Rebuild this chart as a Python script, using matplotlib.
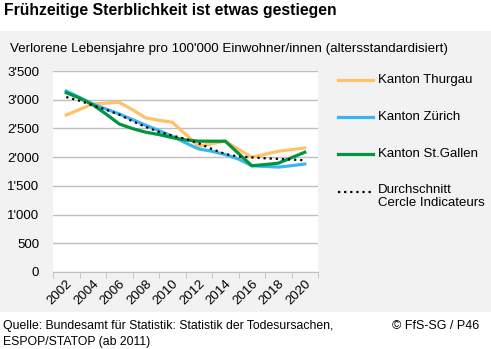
import numpy as np
import matplotlib
matplotlib.use('Agg')
import matplotlib.pyplot as plt
from matplotlib.patches import Rectangle
from matplotlib.lines import Line2D
from matplotlib.ticker import FuncFormatter

plt.rcParams['font.family'] = ['Liberation Sans', 'DejaVu Sans']

# data
years = list(range(2002, 2021))
thurgau = [2735, 2830, 2925, 2940, 2954, 2826, 2683, 2642, 2608, 2400, 2190,
           2237, 2278, 2137, 1997, 2050, 2102, 2131, 2160]
zuerich = [3152, 3040, 2925, 2838, 2751, 2653, 2555, 2462, 2365, 2249, 2143,
           2102, 2044, 1968, 1851, 1839, 1827, 1851, 1880]
stgallen = [3122, 3029, 2913, 2751, 2578, 2497, 2434, 2393, 2340, 2300, 2278,
            2278, 2278, 2065, 1851, 1870, 1895, 1990, 2085]
durchschnitt = [3046, 2983, 2902, 2827, 2740, 2624, 2526, 2439, 2376, 2318, 2240,
                2140, 2055, 2010, 1997, 1980, 1970, 1958, 1945]

labels = ['Kanton Thurgau', 'Kanton Zürich', 'Kanton St.Gallen',
          'Durchschnitt\nCercle Indicateurs']
colors = ['#FFC266', '#3BB5F2', '#00953E', 'black']

tick_years = list(range(2002, 2021, 2))
y_ticks = list(range(0, 3501, 500))

dots = (0, (1, 1.75))

fig = plt.figure(figsize=(4.91, 3.49), dpi=100)
W, H = 491.0, 349.0

# grey panel behind chart
fig.patches.append(Rectangle((0, 1 - 312 / H), 1, (312 - 31) / H,
                             transform=fig.transFigure, facecolor='#F2F2F2',
                             edgecolor='none', zorder=-5))

ax = fig.add_axes([53 / W, 1 - 272 / H, (318 - 53) / W, (272 - 71) / H])
ax.set_zorder(2)
ax.set_facecolor('white')

series = [thurgau, zuerich, stgallen]
for vals, c in zip(series, colors[:3]):
    ax.plot(years, vals, color=c, lw=2.3, solid_joinstyle='miter', zorder=3)
ax.plot(years, durchschnitt, color='black', lw=1.6, linestyle=dots,
        dash_capstyle='butt', zorder=4)

ax.set_xlim(2001, 2021)
ax.set_ylim(0, 3500)
ax.set_yticks(y_ticks)
ax.yaxis.set_major_formatter(FuncFormatter(lambda v, p: f"{int(v):,}".replace(',', "'")))
ax.grid(axis='y', color='#BFBFBF', lw=1)
ax.set_axisbelow(True)
for s in ['left', 'right', 'top']:
    ax.spines[s].set_visible(False)
ax.spines['bottom'].set_color('#BFBFBF')
ax.tick_params(axis='y', length=0, pad=10, labelsize=9.5)

ax.set_xticks(tick_years)
ax.set_xticklabels([str(y) for y in tick_years], rotation=45, ha='right',
                   va='top', rotation_mode='anchor', fontsize=9.5)
ax.set_xticks(list(range(2001, 2022, 2)), minor=True)
ax.tick_params(axis='x', which='major', length=0, pad=4)
ax.tick_params(axis='x', which='minor', length=4, color='#BFBFBF', direction='out')

# legend drawn at the right
leg_y = [80, 117, 154, 192]
for i, c in enumerate(colors):
    y = 1 - leg_y[i] / H
    if i < 3:
        fig.add_artist(Line2D([338 / W, 373 / W], [y, y], transform=fig.transFigure,
                              color=c, lw=2.3))
        fig.text(378 / W, y, labels[i], fontsize=9.5, va='center')
    else:
        fig.add_artist(Line2D([338 / W, 371 / W], [y, y], transform=fig.transFigure,
                              color=c, lw=1.6, linestyle=dots, dash_capstyle='butt'))
        fig.text(378 / W, 1 - 184 / H, labels[i], fontsize=9.5, va='top',
                 linespacing=1.15)

fig.text(4 / W, 1 - 10 / H, 'Frühzeitige Sterblichkeit ist etwas gestiegen',
         fontsize=11.3, fontweight='bold', va='center')
fig.text(10 / W, 1 - 49 / H,
         "Verlorene Lebensjahre pro 100'000 Einwohner/innen (altersstandardisiert)",
         fontsize=9.6, va='center')
fig.text(3 / W, 1 - 326 / H, 'Quelle: Bundesamt für Statistik: Statistik der Todesursachen,',
         fontsize=8.8, va='center')
fig.text(3 / W, 1 - 342 / H, 'ESPOP/STATOP (ab 2011)', fontsize=8.8, va='center')
fig.text(392 / W, 1 - 326 / H, '© FfS-SG / P46', fontsize=9, va='center')

fig.savefig('out.png', dpi=100)
